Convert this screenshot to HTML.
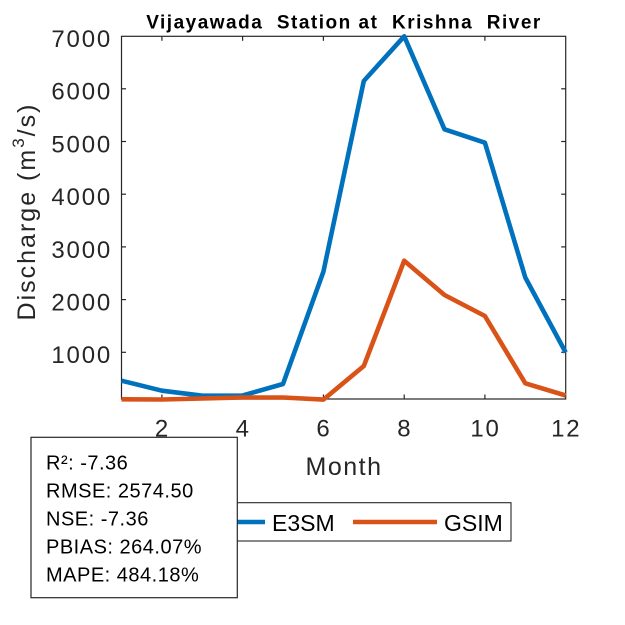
<!DOCTYPE html>
<html>
<head>
<meta charset="utf-8">
<style>
  html, body { margin: 0; padding: 0; background: #fff; }
  svg { display: block; }
  text { font-family: "Liberation Sans", Arial, sans-serif; }
</style>
</head>
<body>
<svg width="625" height="625" viewBox="0 0 625 625" xmlns="http://www.w3.org/2000/svg">
  <rect x="0" y="0" width="625" height="625" fill="#fff"/>

  <!-- Title -->
  <text x="344" y="28.3" text-anchor="middle" font-size="19" font-weight="bold" fill="#000" letter-spacing="1.5" style="white-space:pre">Vijayawada  Station at  Krishna  River</text>

  <!-- Axes box -->
  <rect x="121.5" y="36.3" width="444.2" height="362.7" fill="none" stroke="#262626" stroke-width="1.2"/>

  <!-- X ticks (bottom & top) -->
  <g stroke="#262626" stroke-width="1.2">
    <line x1="161.9" y1="399" x2="161.9" y2="394.5"/>
    <line x1="242.6" y1="399" x2="242.6" y2="394.5"/>
    <line x1="323.4" y1="399" x2="323.4" y2="394.5"/>
    <line x1="404.2" y1="399" x2="404.2" y2="394.5"/>
    <line x1="484.9" y1="399" x2="484.9" y2="394.5"/>
    <line x1="161.9" y1="36.3" x2="161.9" y2="40.8"/>
    <line x1="242.6" y1="36.3" x2="242.6" y2="40.8"/>
    <line x1="323.4" y1="36.3" x2="323.4" y2="40.8"/>
    <line x1="404.2" y1="36.3" x2="404.2" y2="40.8"/>
    <line x1="484.9" y1="36.3" x2="484.9" y2="40.8"/>
    <!-- Y ticks left & right -->
    <line x1="121.5" y1="352.3" x2="126" y2="352.3"/>
    <line x1="121.5" y1="299.6" x2="126" y2="299.6"/>
    <line x1="121.5" y1="246.9" x2="126" y2="246.9"/>
    <line x1="121.5" y1="194.2" x2="126" y2="194.2"/>
    <line x1="121.5" y1="141.5" x2="126" y2="141.5"/>
    <line x1="121.5" y1="88.8" x2="126" y2="88.8"/>
    <line x1="565.7" y1="352.3" x2="561.2" y2="352.3"/>
    <line x1="565.7" y1="299.6" x2="561.2" y2="299.6"/>
    <line x1="565.7" y1="246.9" x2="561.2" y2="246.9"/>
    <line x1="565.7" y1="194.2" x2="561.2" y2="194.2"/>
    <line x1="565.7" y1="141.5" x2="561.2" y2="141.5"/>
    <line x1="565.7" y1="88.8" x2="561.2" y2="88.8"/>
  </g>

  <!-- Y tick labels -->
  <g font-size="24" fill="#262626" text-anchor="end" letter-spacing="1.8">
    <text x="112" y="47.2">7000</text>
    <text x="112" y="99.7">6000</text>
    <text x="112" y="152.4">5000</text>
    <text x="112" y="205.1">4000</text>
    <text x="112" y="257.8">3000</text>
    <text x="112" y="310.5">2000</text>
    <text x="112" y="363.2">1000</text>
  </g>

  <!-- X tick labels -->
  <g font-size="24" fill="#262626" text-anchor="middle" letter-spacing="1.8">
    <text x="162.5" y="436.7">2</text>
    <text x="243.2" y="436.7">4</text>
    <text x="324" y="436.7">6</text>
    <text x="404.8" y="436.7">8</text>
    <text x="485.5" y="436.7">10</text>
    <text x="566.3" y="436.7">12</text>
  </g>

  <!-- X label -->
  <text x="344" y="475" text-anchor="middle" font-size="25" fill="#262626" letter-spacing="1.5">Month</text>

  <!-- Y label -->
  <text transform="translate(35,211.5) rotate(-90)" text-anchor="middle" font-size="25" fill="#262626" letter-spacing="2">Discharge (m<tspan font-size="17" dy="-11">3</tspan><tspan dy="11">/s)</tspan></text>

  <!-- Series -->
  <polyline fill="none" stroke="#0072BD" stroke-width="4.6" stroke-linejoin="round"
    points="121.5,380.7 161.9,390.7 202.3,395.7 242.6,395.5 283.0,384 323.4,271.7 363.8,81 404.2,36.3 444.5,129.3 484.9,142.7 525.3,277.5 565.7,352.5"/>
  <polyline fill="none" stroke="#D95319" stroke-width="4.6" stroke-linejoin="round"
    points="121.5,399.3 161.9,399.5 202.3,398.5 242.6,397.5 283.0,397.5 323.4,399.6 363.8,366 404.2,260.7 444.5,295 484.9,316 525.3,383.3 565.7,395.5"/>

  <!-- Legend -->
  <rect x="175" y="502.7" width="336" height="38.3" fill="#fff" stroke="#262626" stroke-width="1.1"/>
  <line x1="181" y1="522" x2="265" y2="522" stroke="#0072BD" stroke-width="4.6"/>
  <text x="272" y="531" font-size="23" fill="#000">E3SM</text>
  <line x1="353" y1="522" x2="437" y2="522" stroke="#D95319" stroke-width="4.6"/>
  <text x="444" y="531" font-size="23" fill="#000">GSIM</text>

  <!-- Stats box -->
  <rect x="31" y="437.3" width="206.3" height="160.4" fill="#fff" stroke="#262626" stroke-width="1.2"/>
  <g font-size="20" fill="#000" letter-spacing="0.5">
    <text x="46" y="469.3">R²: -7.36</text>
    <text x="46" y="497.3">RMSE: 2574.50</text>
    <text x="46" y="525.3">NSE: -7.36</text>
    <text x="46" y="553.7">PBIAS: 264.07%</text>
    <text x="46" y="581.3">MAPE: 484.18%</text>
  </g>
</svg>
</body>
</html>
